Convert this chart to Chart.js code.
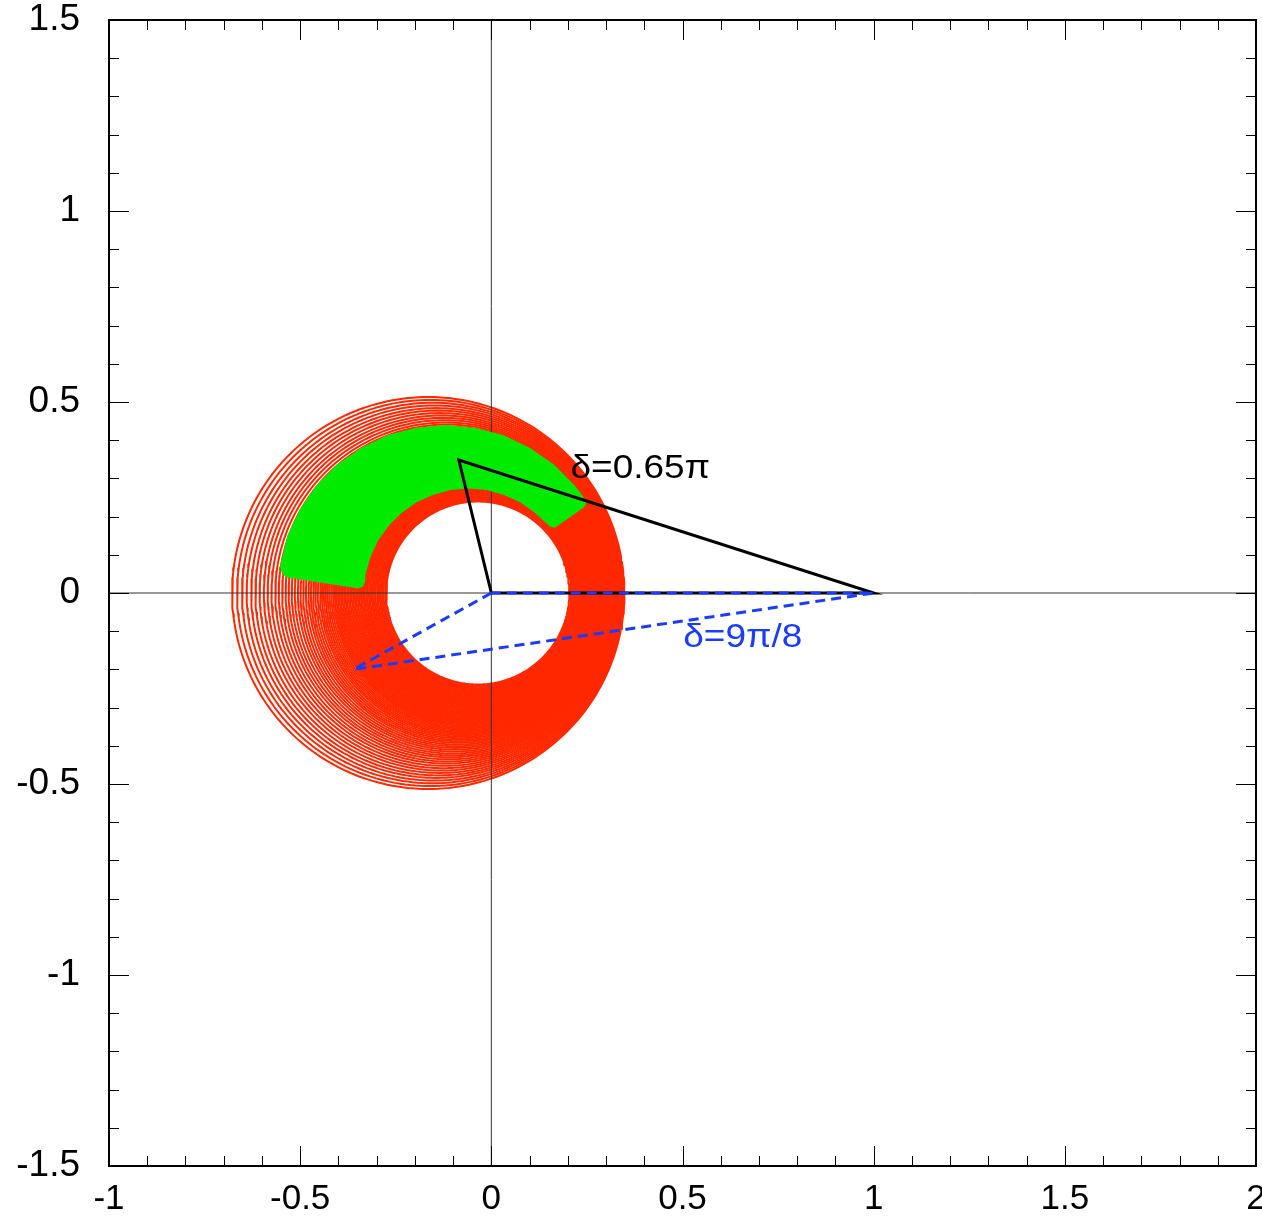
<!DOCTYPE html>
<html><head><meta charset="utf-8">
<script src="https://cdn.jsdelivr.net/npm/chart.js@4.4.1/dist/chart.umd.min.js"></script>
<style>html,body{margin:0;padding:0;background:#fff;}#wrap{width:1262px;height:1217px;position:relative;}</style>
</head><body><div id="wrap"><canvas id="c"></canvas></div>
<script>
// ---- data ----
const xTickLabels = [-1, -0.5, 0, 0.5, 1, 1.5, 2];
const yTickLabels = [-1.5, -1, -0.5, 0, 0.5, 1, 1.5];

// leftmost and rightmost real-axis crossings of each red circle (outer -> inner)
const circleLeft = [-0.678,
  -0.665,-0.652,-0.640,-0.628,-0.617,-0.606,-0.595,-0.585,-0.575,-0.565,
  -0.556,-0.547,-0.538,-0.530,-0.522,-0.514,-0.506,-0.499,-0.492,-0.485,
  -0.478,-0.472,-0.466,-0.460,-0.454,-0.448,-0.443,-0.438,-0.433,-0.428,
  -0.423,-0.418,-0.413,-0.409,-0.405,-0.401,-0.397,-0.393,-0.389,-0.385,
  -0.381,-0.377,-0.373,-0.369,-0.365,-0.361,-0.357,-0.353,-0.349,-0.345,
  -0.341,-0.338,-0.334,-0.331,-0.327,-0.324,-0.320,-0.317,-0.313,-0.310,
  -0.306,-0.303,-0.299,-0.296,-0.292,-0.289,-0.285,-0.282,-0.278,-0.275];
const circleRight = [0.348,
  0.346,0.344,0.342,0.340,0.338,0.336,0.334,0.332,0.330,0.328,
  0.326,0.324,0.322,0.320,0.318,0.316,0.314,0.312,0.310,0.308,
  0.306,0.304,0.302,0.300,0.298,0.296,0.294,0.292,0.290,0.288,
  0.286,0.284,0.282,0.280,0.278,0.276,0.274,0.272,0.270,0.268,
  0.266,0.264,0.262,0.260,0.258,0.256,0.254,0.252,0.250,0.248,
  0.246,0.244,0.242,0.240,0.238,0.236,0.234,0.232,0.230,0.228,
  0.226,0.224,0.222,0.220,0.218,0.216,0.214,0.211,0.208,0.204];

// green band outline (outer arc, right end, inner arc, left end)
const greenX = [-0.536,-0.546,-0.550,-0.531,-0.498,-0.455,-0.401,-0.339,-0.270,-0.196,-0.120,-0.044,0.029,0.099,0.161,0.215,0.238,0.246,0.240,
  0.175,0.165,0.155,0.117,0.078,0.034,-0.012,-0.060,-0.108,-0.154,-0.198,-0.237,-0.271,-0.299,-0.319,-0.332,-0.333,-0.338,-0.350,-0.536];
const greenY = [0.044,0.054,0.070,0.150,0.219,0.281,0.335,0.378,0.411,0.430,0.437,0.430,0.411,0.378,0.335,0.281,0.251,0.236,0.226,
  0.180,0.174,0.176,0.211,0.239,0.259,0.272,0.276,0.272,0.259,0.239,0.211,0.177,0.138,0.094,0.048,0.030,0.018,0.015,0.044];

// triangles
const blackTriX = [0, -0.085, 1, 0];
const blackTriY = [0, 0.348, 0, 0];
const blueTriX = [0, -0.36, 1, 0];
const blueTriY = [0, -0.20, 0, 0];

const annotations = [
  {text: 'δ=0.65π', x: 0.207, y: 0.301, color: '#000000'},
  {text: 'δ=9π/8', x: 0.502, y: -0.141, color: 'rgb(25,60,255)'}
];

// ---- build datasets ----
const RED = 'rgb(255,40,0)';
const pts = (xs, ys) => xs.map((x, i) => ({x, y: ys[i]}));
const datasets = [];
datasets.push({data: pts(blueTriX, blueTriY), borderColor: 'rgb(25,60,255)', borderWidth: 3, borderDash: [10, 6], order: 0});
datasets.push({data: pts(blackTriX, blackTriY), borderColor: '#000', borderWidth: 3, order: 1});
datasets.push({data: pts(greenX, greenY), borderColor: 'rgb(0,235,0)', backgroundColor: 'rgb(0,235,0)', borderWidth: 2, fill: 'shape', borderJoinStyle: 'round', order: 2});
datasets.push({data: [{x: -1, y: 0}, {x: 2, y: 0}], borderColor: '#333', borderWidth: 1, order: 3});
datasets.push({data: [{x: 0, y: -1.5}, {x: 0, y: 1.5}], borderColor: '#333', borderWidth: 1, order: 3});
circleLeft.forEach((L, i) => {
  const R = circleRight[i];
  const cx = (L + R) / 2, r = (R - L) / 2;
  const d = [];
  for (let k = 0; k <= 240; k++) {
    const a = k / 240 * 2 * Math.PI;
    d.push({x: cx + r * Math.cos(a), y: r * Math.sin(a)});
  }
  datasets.push({data: d, borderColor: RED, borderWidth: 2, order: 10});
});
datasets.forEach(ds => { ds.showLine = true; ds.pointRadius = 0; ds.pointHoverRadius = 0; ds.tension = 0; if (ds.fill === undefined) ds.fill = false; });

// ---- plugins ----
const innerTicks = {
  id: 'innerTicks',
  afterDatasetsDraw(chart) {
    const {ctx, chartArea: a, scales: {x, y}} = chart;
    ctx.save();
    ctx.strokeStyle = '#000';
    ctx.lineWidth = 1;
    ctx.beginPath();
    for (let k = -9; k <= 19; k++) {
      const v = k / 10;
      const px = Math.round(x.getPixelForValue(v)) + 0.5;
      const len = (k % 5 === 0) ? 20 : 10;
      ctx.moveTo(px, a.bottom); ctx.lineTo(px, a.bottom - len);
      ctx.moveTo(px, a.top); ctx.lineTo(px, a.top + len);
    }
    for (let k = -14; k <= 14; k++) {
      const v = k / 10;
      const py = Math.round(y.getPixelForValue(v)) + 0.5;
      const len = (k % 5 === 0) ? 20 : 10;
      ctx.moveTo(a.left, py); ctx.lineTo(a.left + len, py);
      ctx.moveTo(a.right, py); ctx.lineTo(a.right - len, py);
    }
    ctx.stroke();
    ctx.lineWidth = 2;
    ctx.strokeRect(a.left, a.top, a.right - a.left, a.bottom - a.top);
    // annotations (slightly widened like the reference lettering)
    ctx.textAlign = 'left';
    ctx.textBaseline = 'alphabetic';
    ctx.font = '33px "Liberation Sans", Arial, sans-serif';
    annotations.forEach(t => {
      ctx.save();
      ctx.fillStyle = t.color;
      ctx.translate(x.getPixelForValue(t.x), y.getPixelForValue(t.y));
      ctx.scale(1.12, 1);
      ctx.fillText(t.text, 0, 0);
      ctx.restore();
    });
    ctx.restore();
  }
};

function noPad(s) { s.paddingTop = 0; s.paddingBottom = 0; s.paddingLeft = 0; s.paddingRight = 0; }

new Chart(document.getElementById('c'), {
  type: 'scatter',
  data: {datasets},
  options: {
    responsive: true,
    maintainAspectRatio: false,
    animation: false,
    events: [],
    layout: {autoPadding: false, padding: {top: 20, right: 6, left: 0, bottom: 0}},
    plugins: {legend: {display: false}, tooltip: {enabled: false}, title: {display: false}},
    scales: {
      x: {
        type: 'linear', min: -1, max: 2,
        afterFit(s) { s.height = 51; noPad(s); },
        afterBuildTicks(s) { s.ticks = xTickLabels.map(v => ({value: v})); },
        ticks: {autoSkip: false, maxRotation: 0, padding: 12, color: '#000',
          font: {family: '"Liberation Sans", Arial, sans-serif', size: 35},
          callback: v => String(v)},
        grid: {display: false, drawTicks: false},
        border: {display: false}
      },
      y: {
        type: 'linear', min: -1.5, max: 1.5,
        afterFit(s) { s.width = 109; noPad(s); },
        afterBuildTicks(s) { s.ticks = yTickLabels.map(v => ({value: v})); },
        ticks: {autoSkip: false, padding: 29, color: '#000',
          font: {family: '"Liberation Sans", Arial, sans-serif', size: 37},
          callback: v => String(v)},
        grid: {display: false, drawTicks: false},
        border: {display: false}
      }
    }
  },
  plugins: [innerTicks]
});
</script></body></html>
